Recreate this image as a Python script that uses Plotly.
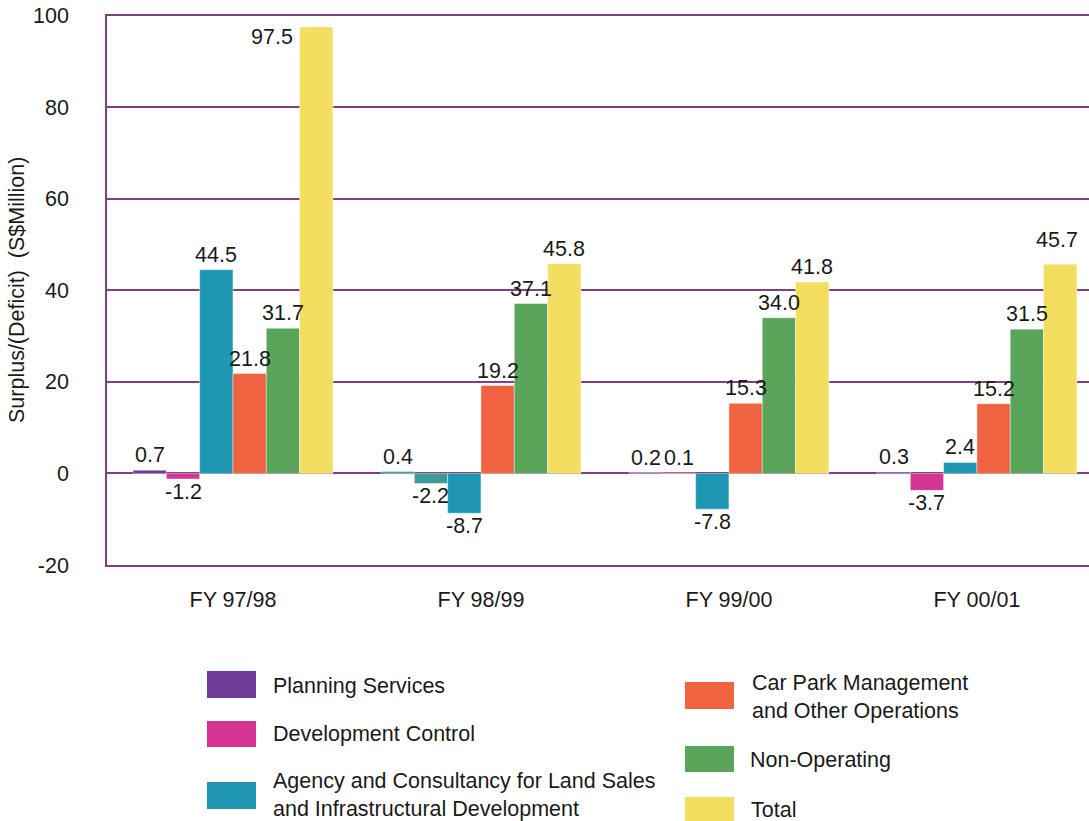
import plotly.graph_objects as go

# Fiscal years on the category axis
years = ["FY 97/98", "FY 98/99", "FY 99/00", "FY 00/01"]

# Surplus / (deficit) by business segment, S$ million
planning_services = [0.7, 0.4, 0.2, 0.3]
development_control = [-1.2, -2.2, 0.1, -3.7]
agency_consultancy = [44.5, -8.7, -7.8, 2.4]
car_park_operations = [21.8, 19.2, 15.3, 15.2]
non_operating = [31.7, 37.1, 34.0, 31.5]
total = [97.5, 45.8, 41.8, 45.7]

y_ticks = [-20, 0, 20, 40, 60, 80, 100]
y_tick_text = ["-20", "0", "20", "40", "60", "80", "100"]

series = [
    ("Planning Services", planning_services,
     ["#6e3c96", "#3a9b98", "#6e3c96", "#6e3c96"]),
    ("Development Control", development_control,
     ["#d43593", "#3a9b98", "#d43593", "#d43593"]),
    ("Agency and Consultancy for Land Sales<br>and Infrastructural Development",
     agency_consultancy, ["#1f97b4"] * 4),
    ("Car Park Management<br>and Other Operations", car_park_operations,
     ["#f06340"] * 4),
    ("Non-Operating", non_operating, ["#5ba55b"] * 4),
    ("Total", total, ["#f3de5f"] * 4),
]
legend_swatch = ["#6e3c96", "#d43593", "#1f97b4", "#f06340", "#5ba55b", "#f3de5f"]

W, H = 1089, 821
FONT = "Liberation Sans, Arial, sans-serif"
FS = 21.5
TXT = "#1a1a1a"
GRID = "#7d417d"

BARGAP = 0.194
n = len(series)
bar_w = (1 - BARGAP) / n
xpos = list(range(len(years)))

fig = go.Figure()
for name, vals, cols in series:
    fig.add_trace(go.Bar(
        x=xpos, y=vals, name=name,
        marker=dict(color=cols, line=dict(color="rgba(255,255,255,0.7)", width=0.6)),
        showlegend=False,
    ))

# value labels above positive bars / below negative bars
annotations = []
for j, (name, vals, cols) in enumerate(series):
    for i, v in enumerate(vals):
        x = i + (j - (n - 1) / 2) * bar_w
        ann = dict(x=x, y=v, xref="x", yref="y", text=f"{v:.1f}",
                   showarrow=False, font=dict(family=FONT, size=FS, color=TXT))
        if name == "Total" and i == 0:
            # tallest bar: label sits to its left, level with the top
            ann.update(xanchor="right", yanchor="top", xshift=-bar_w * 248 / 2 - 5, yshift=4)
        elif name == "Total" and i == 3:
            ann.update(yanchor="bottom", yshift=10, xshift=-3)
        elif v >= 0:
            ann.update(yanchor="bottom", yshift=1)
        else:
            ann.update(yanchor="top", yshift=1)
        annotations.append(ann)

# axis title
annotations.append(dict(
    x=17 / W, y=1 - 290 / H, xref="paper", yref="paper",
    text="Surplus/(Deficit)  (S$Million)", textangle=-90, showarrow=False,
    font=dict(family=FONT, size=FS, color=TXT), xanchor="center", yanchor="middle"))

# two-column legend drawn as swatches and labels
def px_x(p):
    return p / W

def px_y(p):
    return 1 - p / H

legend_items = [
    # (series index, swatch left, top, right, bottom, text x, text y center)
    (0, 207, 671, 256, 698, 271, 686),
    (1, 207, 721, 256, 747, 271, 734),
    (2, 207, 782, 256, 809, 271, 795),
    (3, 685, 682, 734, 709, 750, 697),
    (4, 685, 746, 734, 772, 748, 760),
    (5, 685, 797, 734, 823, 749, 810),
]
shapes = []
for idx, x0, y0, x1, y1, tx, ty in legend_items:
    name = series[idx][0]
    shapes.append(dict(type="rect", xref="paper", yref="paper",
                       x0=px_x(x0), x1=px_x(x1), y0=px_y(y1), y1=px_y(y0),
                       fillcolor=legend_swatch[idx], line=dict(width=0)))
    annotations.append(dict(
        x=px_x(tx), y=px_y(ty), xref="paper", yref="paper", text=name,
        showarrow=False, xanchor="left", yanchor="middle", align="left",
        font=dict(family=FONT, size=FS, color=TXT)))

fig.update_layout(
    width=W, height=H,
    margin=dict(l=0, r=0, t=0, b=0, autoexpand=False),
    paper_bgcolor="white", plot_bgcolor="white",
    barmode="group", bargap=BARGAP, bargroupgap=0,
    font=dict(family=FONT, size=FS, color=TXT),
    xaxis=dict(
        domain=[107 / W, 1.0],
        range=[-0.508, 3.452],
        tickmode="array", tickvals=xpos, ticktext=years,
        showgrid=False, zeroline=False,
        showline=True, mirror=True, linecolor=GRID, linewidth=1.5,
        ticks="", automargin=False,
        tickfont=dict(family=FONT, size=FS, color=TXT),
        ticklabelstandoff=14,
    ),
    yaxis=dict(
        domain=[1 - 565 / H, 1 - 15.5 / H],
        range=[-20, 100],
        tickmode="array", tickvals=y_ticks, ticktext=y_tick_text,
        showgrid=True, gridcolor=GRID, gridwidth=1.5,
        zeroline=False, showline=True, linecolor=GRID, linewidth=1.5,
        ticks="", automargin=False,
        tickfont=dict(family=FONT, size=FS, color=TXT),
        ticklabelstandoff=32,
    ),
    annotations=annotations,
    shapes=shapes,
)

fig.write_html("out.html")
